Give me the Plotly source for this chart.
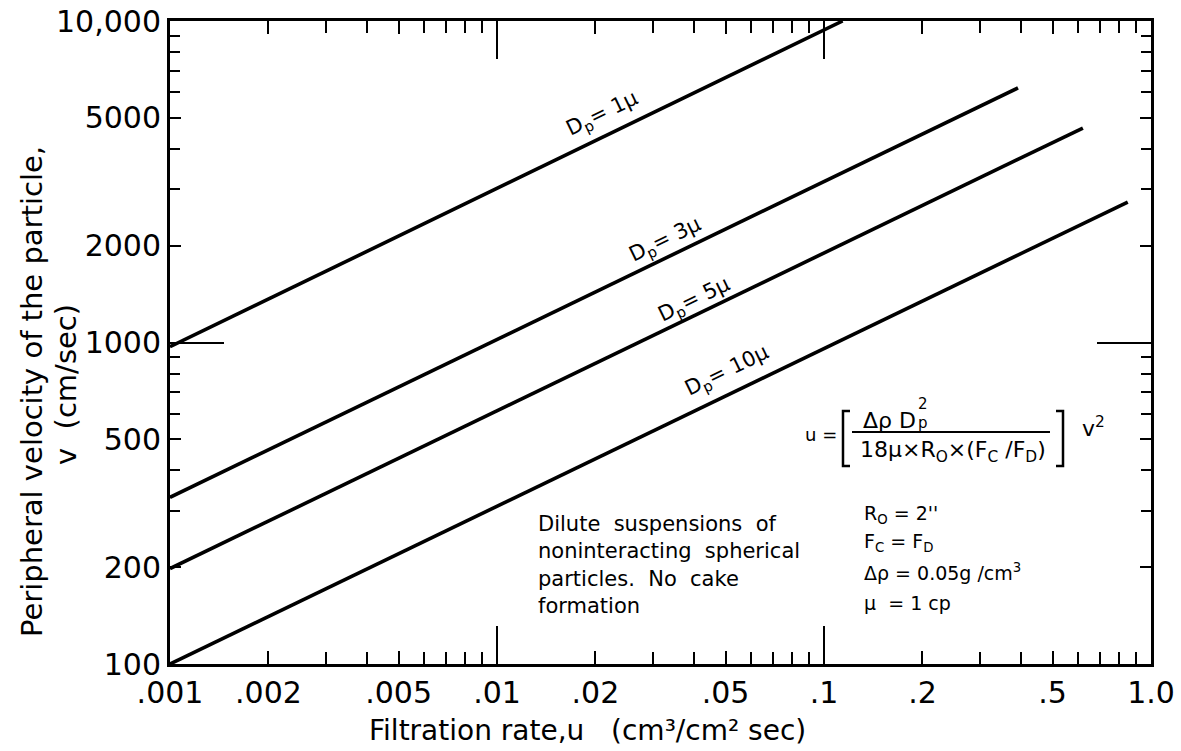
import plotly.graph_objects as go

# ---- data (endpoints of the straight log-log lines) ----
dp_labels = ["D<sub>p</sub>= 1μ", "D<sub>p</sub>= 3μ", "D<sub>p</sub>= 5μ", "D<sub>p</sub>= 10μ"]
u_dp1 = [0.001, 0.114]
v_dp1 = [970, 10000]
u_dp3 = [0.001, 0.392]
v_dp3 = [330, 6190]
u_dp5 = [0.001, 0.619]
v_dp5 = [198, 4645]
u_dp10 = [0.001, 0.849]
v_dp10 = [100, 2735]

x_tickvals = [0.001, 0.002, 0.005, 0.01, 0.02, 0.05, 0.1, 0.2, 0.5, 1.0]
x_ticktext = [".001", ".002", ".005", ".01", ".02", ".05", ".1", ".2", ".5", "1.0"]
x_minor = [0.003, 0.004, 0.006, 0.007, 0.008, 0.009,
           0.03, 0.04, 0.06, 0.07, 0.08, 0.09,
           0.3, 0.4, 0.6, 0.7, 0.8, 0.9]
x_long = [0.01, 0.1]
y_tickvals = [100, 200, 500, 1000, 2000, 5000, 10000]
y_ticktext = ["100", "200", "500", "1000", "2000", "5000", "10,000"]
y_minor = [300, 400, 600, 700, 800, 900, 3000, 4000, 6000, 7000, 8000, 9000]
y_long = [1000]

FONT = "DejaVu Sans"
W, H = 1181, 751
L, R, T, B = 170, 30, 21, 87
PW, PH = W - L - R, H - T - B


def px(x):
    return (x - L) / PW


def py(y):
    return (H - B - y) / PH


fig = go.Figure()
for u, v in [(u_dp1, v_dp1), (u_dp3, v_dp3), (u_dp5, v_dp5), (u_dp10, v_dp10)]:
    fig.add_trace(go.Scatter(x=u, y=v, mode="lines",
                             line=dict(color="black", width=3.6),
                             showlegend=False, hoverinfo="skip"))
# empty trace to carry the overlay axes used for the long decade ticks
fig.add_trace(go.Scatter(x=[], y=[], xaxis="x2", yaxis="y2", showlegend=False))

tickfont = dict(family=FONT, size=30, color="black")
fig.update_layout(
    width=W, height=H,
    margin=dict(l=L, r=R, t=T, b=B, autoexpand=False),
    paper_bgcolor="white", plot_bgcolor="white",
    showlegend=False,
    xaxis=dict(type="log", range=[-3, 0], showgrid=False, zeroline=False,
               automargin=False,
               showline=True, linecolor="black", linewidth=3, mirror="ticks",
               ticks="inside", ticklen=13, tickwidth=2, tickcolor="black",
               tickvals=x_tickvals, ticktext=x_ticktext, tickfont=tickfont,
               minor=dict(tickvals=x_minor, ticks="inside", ticklen=12,
                          tickwidth=2, tickcolor="black", showgrid=False)),
    yaxis=dict(type="log", range=[2, 4], showgrid=False, zeroline=False,
               automargin=False,
               showline=True, linecolor="black", linewidth=3, mirror="ticks",
               ticks="inside", ticklen=11, tickwidth=2, tickcolor="black",
               tickvals=y_tickvals, ticktext=y_ticktext, tickfont=tickfont,
               minor=dict(tickvals=y_minor, ticks="inside", ticklen=10,
                          tickwidth=2, tickcolor="black", showgrid=False)),
    xaxis2=dict(type="log", range=[-3, 0], overlaying="x", anchor="y2",
                automargin=False,
                showgrid=False, zeroline=False, showline=False,
                mirror="ticks", ticks="inside", ticklen=38, tickwidth=2,
                tickcolor="black", tickvals=x_long, showticklabels=False),
    yaxis2=dict(type="log", range=[2, 4], overlaying="y", anchor="x2",
                automargin=False,
                showgrid=False, zeroline=False, showline=False,
                mirror="ticks", ticks="inside", ticklen=54, tickwidth=2,
                tickcolor="black", tickvals=y_long, showticklabels=False),
)

ann = []


def text(x, y, s, size, **kw):
    d = dict(x=px(x), y=py(y), xref="paper", yref="paper", text=s,
             showarrow=False, font=dict(family=FONT, size=size, color="black"),
             xanchor="center", yanchor="middle", borderpad=0)
    d.update(kw)
    ann.append(d)


# axis titles
text(32, 392, "Peripheral velocity of the particle,", 29, textangle=-90)
text(66, 385, "v  (cm/sec)", 29, textangle=-90)
text(587, 730, "Filtration rate,u &nbsp;&nbsp;(cm³/cm² sec)", 28)

# line labels
label_pos = [(602, 114), (665, 240), (694, 300), (727, 371)]
for lab, (lx, ly) in zip(dp_labels, label_pos):
    text(lx, ly, lab, 21, textangle=-26)

# note text
text(537, 565, "Dilute  suspensions  of<br>noninteracting  spherical<br>particles.  No  cake<br>formation",
     21, xanchor="left", align="left")

# formula
text(821, 434, "u =", 18)
text(917, 420, "Δρ D", 22, xanchor="right")
text(923, 404, "2", 15)
text(923, 423, "p", 15)
text(953, 451, "18μ×R<sub>O</sub>×(F<sub>C</sub> /F<sub>D</sub>)", 22)
text(1093, 427, "v<sup>2</sup>", 22)

# parameters
text(863, 514, "R<sub>O</sub> = 2''", 19, xanchor="left")
text(863, 542, "F<sub>C</sub> = F<sub>D</sub>", 19, xanchor="left")
text(863, 572, "Δρ = 0.05g /cm<sup>3</sup>", 19, xanchor="left")
text(863, 603, "μ  = 1 cp", 19, xanchor="left")

fig.update_layout(annotations=ann)

shapes = []


def seg(points, w=2.5):
    path = "M " + " L ".join(f"{px(a):.5f},{py(b):.5f}" for a, b in points)
    shapes.append(dict(type="path", path=path, xref="paper", yref="paper",
                       line=dict(color="black", width=w)))


seg([(850, 411), (843, 411), (843, 466), (850, 466)])
seg([(1056, 411), (1063, 411), (1063, 466), (1056, 466)])
seg([(852, 432), (1050, 432)], w=2)
fig.update_layout(shapes=shapes)

fig.write_html("out.html",
               config={"displayModeBar": False},
               post_script="document.body.style.margin='0px';document.body.style.overflow='hidden';")
